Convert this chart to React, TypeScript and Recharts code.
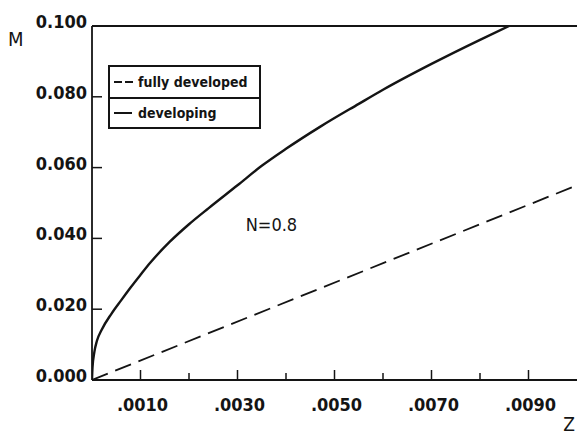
import React from 'react';
import { LineChart, Line, XAxis, YAxis, ReferenceLine, ReferenceDot, Legend } from 'recharts';

const zDeveloping = [0, 0.00001, 0.00005, 0.0001, 0.0002, 0.0004, 0.0006, 0.0008, 0.001, 0.0012, 0.0016, 0.002, 0.0024, 0.003, 0.0035, 0.004, 0.0047, 0.0055, 0.006, 0.007, 0.008, 0.0086];
const mDeveloping = [0, 0.0035, 0.008, 0.011, 0.0142, 0.0187, 0.0225, 0.0262, 0.0297, 0.0331, 0.039, 0.044, 0.0485, 0.055, 0.0605, 0.0653, 0.0715, 0.078, 0.082, 0.0893, 0.0961, 0.1];
const zFully = [0, 0.01];
const mFully = [0, 0.055];
const xTicks = [0.001, 0.002, 0.003, 0.004, 0.005, 0.006, 0.007, 0.008, 0.009];
const xLabeled = [0.001, 0.003, 0.005, 0.007, 0.009];
const yTicks = [0, 0.02, 0.04, 0.06, 0.08, 0.1];
const seriesNames = ['fully developed', 'developing'];
const noteText = 'N=0.8';
const notePos = { z: 0.0037, m: 0.0438 };

const developingData = zDeveloping.map((z, i) => ({ z, m: mDeveloping[i] }));
const fullyData = zFully.map((z, i) => ({ z, m: mFully[i] }));

const FONT = "'Liberation Sans Narrow', 'DejaVu Sans Condensed', 'Roboto Condensed', 'Liberation Sans', Arial, sans-serif";
const INK = '#141414';

const fmtX = (v: number) => v.toFixed(4).replace(/^0/, '');
const fmtY = (v: number) => v.toFixed(3);

const YTick = (props: any) => {
  const { x, y, payload } = props;
  return (
    <g>
      <line x1={x} y1={y} x2={x + 10} y2={y} stroke={INK} strokeWidth={1.5} />
      <text x={x - 5} y={y + 2} textAnchor="end" fontSize={18} fontFamily={FONT} fontWeight={600} fill={INK}>
        {fmtY(payload.value)}
      </text>
    </g>
  );
};

const XTick = (props: any) => {
  const { x, y, payload } = props;
  const major = xLabeled.some((t) => Math.abs(t - payload.value) < 1e-9);
  return (
    <g>
      <line x1={x} y1={y} x2={x} y2={y - (major ? 10 : 7)} stroke={INK} strokeWidth={1.5} />
      {major && (
        <text x={x + 2} y={y + 31} textAnchor="middle" fontSize={18} fontFamily={FONT} fontWeight={600} fill={INK}>
          {fmtX(payload.value)}
        </text>
      )}
    </g>
  );
};

const LegendBox = () => (
  <div
    style={{
      width: 149,
      height: 60,
      border: `2px solid ${INK}`,
      fontFamily: FONT,
      fontWeight: 700,
      fontSize: 14,
      color: INK,
      background: '#fff',
      boxSizing: 'content-box',
    }}
  >
    <div style={{ height: 30, borderBottom: `2px solid ${INK}`, display: 'flex', alignItems: 'center', paddingLeft: 4 }}>
      <svg width={20} height={4} style={{ marginRight: 4 }}>
        <line x1={0} y1={2} x2={20} y2={2} stroke={INK} strokeWidth={2} strokeDasharray="8 3" />
      </svg>
      <span>{seriesNames[0]}</span>
    </div>
    <div style={{ height: 28, display: 'flex', alignItems: 'center', paddingLeft: 4 }}>
      <svg width={18} height={4} style={{ marginRight: 6 }}>
        <line x1={0} y1={2} x2={18} y2={2} stroke={INK} strokeWidth={2} />
      </svg>
      <span>{seriesNames[1]}</span>
    </div>
  </div>
);

export default function App() {
  return (
    <div style={{ position: 'fixed', left: 0, top: 0, width: 578, height: 435, background: '#fff' }}>
      <LineChart width={578} height={435} margin={{ top: 26, right: 1, bottom: 0, left: 0 }}>
        <XAxis
          type="number"
          dataKey="z"
          domain={[0, 0.01]}
          ticks={xTicks}
          tick={<XTick />}
          tickLine={false}
          tickSize={0}
          tickMargin={0}
          height={55}
          axisLine={{ stroke: INK, strokeWidth: 1.8 }}
          allowDataOverflow
          label={({ viewBox }: any) => (
            <text x={viewBox.x + viewBox.width - 2} y={viewBox.y + viewBox.height - 4} textAnchor="end" fontSize={19} fontFamily={FONT} fill={INK}>
              Z
            </text>
          )}
        />
        <YAxis
          type="number"
          dataKey="m"
          domain={[0, 0.1]}
          ticks={yTicks}
          tick={<YTick />}
          tickLine={false}
          tickSize={0}
          tickMargin={0}
          width={92}
          axisLine={{ stroke: INK, strokeWidth: 1.8 }}
          allowDataOverflow
          label={({ viewBox }: any) => (
            <text x={viewBox.x + 8} y={viewBox.y + 20} fontSize={20} fontFamily={FONT} fill={INK}>
              M
            </text>
          )}
        />
        <ReferenceLine y={0.1} stroke={INK} strokeWidth={1.8} />
        <Line
          data={fullyData}
          dataKey="m"
          name={seriesNames[0]}
          type="linear"
          stroke={INK}
          strokeWidth={1.8}
          strokeDasharray="17 8"
          dot={false}
          isAnimationActive={false}
        />
        <Line
          data={developingData}
          dataKey="m"
          name={seriesNames[1]}
          type="monotone"
          stroke={INK}
          strokeWidth={2.4}
          dot={false}
          isAnimationActive={false}
        />
        <ReferenceDot
          x={notePos.z}
          y={notePos.m}
          r={0}
          fill="none"
          stroke="none"
          label={{ value: noteText, position: 'center', fontSize: 18, fontFamily: FONT, fill: INK }}
        />
        <Legend
          layout="horizontal"
          verticalAlign="middle"
          align="center"
          content={<LegendBox />}
          wrapperStyle={{ left: 108, top: 65, width: 153, height: 64 }}
        />
      </LineChart>
    </div>
  );
}
